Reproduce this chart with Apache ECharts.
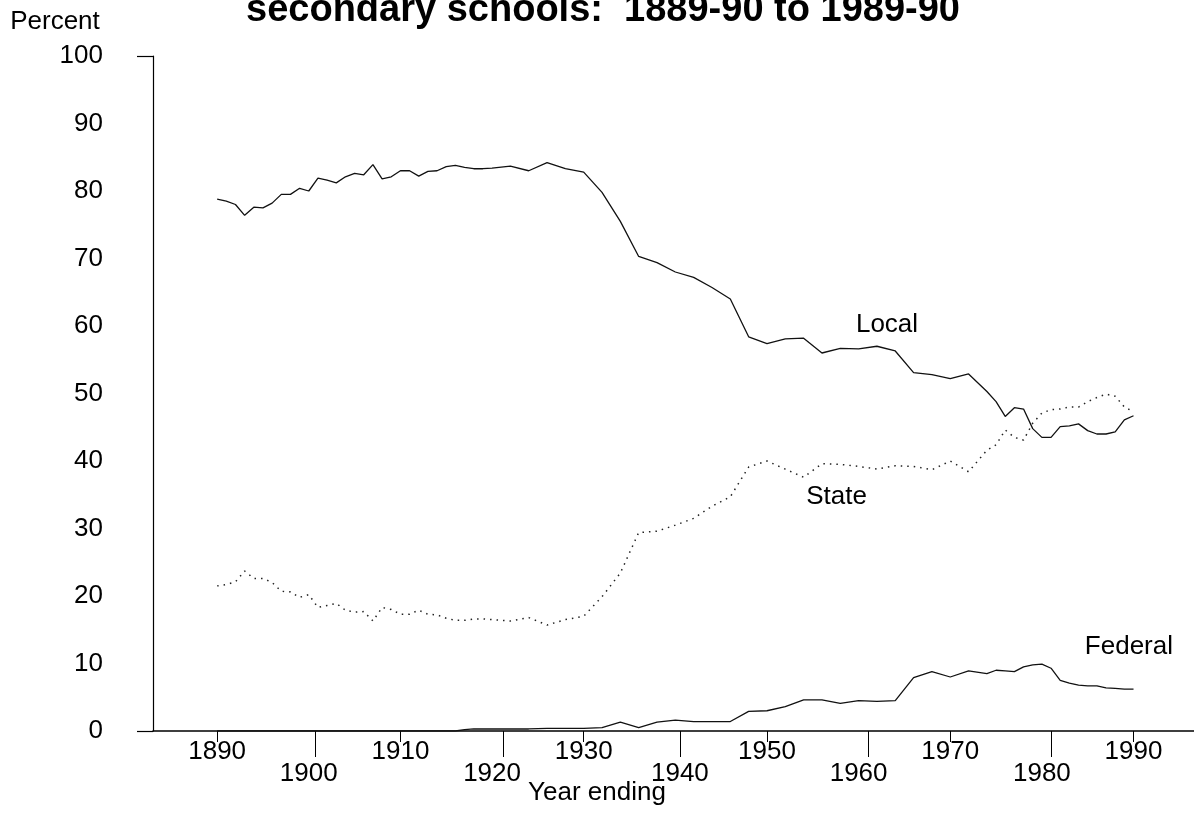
<!DOCTYPE html>
<html>
<head>
<meta charset="utf-8">
<script src="https://cdn.jsdelivr.net/npm/echarts@6/dist/echarts.min.js"></script>
<style>
  html, body { margin: 0; padding: 0; background: #fff; }
  #chart { width: 1194px; height: 827px; }
</style>
</head>
<body>
<div id="chart"></div>
<script>
const years = [
  1890,1891,1892,1893,1894,1895,1896,1897,1898,1899,
  1900,1901,1902,1903,1904,1905,1906,1907,1908,1909,
  1910,1911,1912,1913,1914,1915,1916,1917,1918,1919,
  1920,
  1922,1924,1926,1928,1930,1932,1934,1936,1938,1940,
  1942,1944,1946,1948,1950,1952,1954,1956,1958,1960,
  1962,1964,1966,1968,1970,1972,
  1974,1975,1976,1977,1978,1979,1980,1981,1982,1983,
  1984,1985,1986,1987,1988,1989,1990
];
const local = [
  78.8,78.5,78.0,76.4,77.6,77.5,78.2,79.5,79.5,80.4,
  80.0,81.9,81.6,81.2,82.1,82.6,82.4,83.9,81.8,82.1,
  83.0,83.0,82.2,82.9,83.0,83.6,83.8,83.5,83.3,83.3,
  83.4,
  83.7,83.0,84.2,83.3,82.8,79.8,75.5,70.3,69.4,68.0,
  67.2,65.7,64.0,58.4,57.4,58.1,58.2,56.0,56.7,56.6,
  57.0,56.3,53.1,52.8,52.2,52.9,
  50.3,48.8,46.6,47.9,47.7,44.8,43.5,43.5,45.1,45.2,
  45.5,44.5,44.0,44.0,44.3,46.1,46.7
];
const state = [
  21.5,21.7,22.1,23.7,22.6,22.6,22.0,20.7,20.6,19.8,
  20.2,18.3,18.6,18.9,17.9,17.6,17.7,16.3,18.3,18.0,
  17.3,17.3,17.9,17.3,17.2,16.7,16.4,16.4,16.6,16.6,
  16.5,
  16.3,16.8,15.7,16.5,17.0,19.9,23.4,29.4,29.6,30.5,
  31.5,33.3,34.7,39.1,40.0,38.8,37.6,39.6,39.5,39.2,
  38.8,39.3,39.2,38.7,40.0,38.4,
  41.6,42.4,44.6,43.5,43.1,45.6,47.1,47.6,47.7,48.0,
  48.0,48.8,49.4,49.9,49.6,48.0,47.3
];
const federal = [
  0,0,0,0,0,0,0,0,0,0,
  0,0,0,0,0,0,0,0,0,0,
  0,0,0,0,0,0,0,0.2,0.3,0.3,
  0.3,
  0.3,0.3,0.4,0.4,0.4,0.5,1.3,0.5,1.3,1.6,
  1.4,1.4,1.4,2.9,3.0,3.6,4.6,4.6,4.1,4.5,
  4.4,4.5,7.9,8.8,8.0,8.9,
  8.5,9.0,8.9,8.8,9.5,9.8,9.9,9.3,7.5,7.1,
  6.8,6.7,6.7,6.4,6.3,6.2,6.2
];
const seriesNames = ['Local', 'State', 'Federal'];
const oddYearLabels = [1890, 1910, 1930, 1950, 1970, 1990];
const evenYearLabels = [1900, 1920, 1940, 1960, 1980];
const evenYearLabelSpots = [1900, 1920, 1940.5, 1960, 1980];
const evenYearTickMarks = [1900.7, 1921.2, 1940.5, 1961.1, 1981.0];
const yEndTicks = [0, 100];
const labelAnchors = { Local: [1963.1, 60.1], State: [1957.6, 34.7], Federal: [1989.5, 12.4] };

const FONT = '"Liberation Sans", Arial, Helvetica, sans-serif';
const pairs = arr => years.map((y, i) => [y, arr[i]]);

function mkSeries(name, values, lineType, color, width) {
  return {
    name: name,
    type: 'line',
    data: pairs(values),
    showSymbol: false,
    symbol: 'none',
    silent: true,
    lineStyle: { color: color, width: width, type: lineType },
    markPoint: {
      symbol: 'circle',
      symbolSize: 0,
      silent: true,
      label: { show: true, position: 'inside', formatter: name, color: '#000', fontSize: 26, fontFamily: FONT },
      data: [{ coord: labelAnchors[name] }]
    }
  };
}

const chart = echarts.init(document.getElementById('chart'), null, { renderer: 'canvas' });
const xCommon = { type: 'value', min: 1883, max: 1996.6, gridIndex: 0, position: 'bottom', splitLine: { show: false } };
chart.setOption({
  animation: false,
  backgroundColor: '#fff',
  textStyle: { fontFamily: FONT },
  grid: { left: 153, right: 0, top: 56, bottom: 96, containLabel: false },
  graphic: [
    { type: 'text', x: 603, y: 11, style: { text: 'secondary schools:  1889-90 to 1989-90', font: 'bold 38px ' + FONT, fill: '#000', align: 'center', verticalAlign: 'middle' } },
    { type: 'text', x: 55, y: 22, style: { text: 'Percent', font: '26px ' + FONT, fill: '#000', align: 'center', verticalAlign: 'middle' } },
    { type: 'text', x: 597, y: 793, style: { text: 'Year ending', font: '26px ' + FONT, fill: '#000', align: 'center', verticalAlign: 'middle' } }
  ],
  xAxis: [
    Object.assign({}, xCommon, {
      axisLine: { show: true, onZero: false, lineStyle: { color: '#000', width: 1.5 } },
      axisTick: { show: true, customValues: oddYearLabels, length: 11, lineStyle: { color: '#000', width: 1 } },
      axisLabel: { show: true, customValues: oddYearLabels, margin: 8, color: '#000', fontSize: 26, fontFamily: FONT, formatter: v => String(Math.round(v)) }
    }),
    Object.assign({}, xCommon, {
      axisLine: { show: false, onZero: false },
      axisTick: { show: true, customValues: evenYearTickMarks, length: 26, lineStyle: { color: '#000', width: 1 } },
      axisLabel: { show: true, customValues: evenYearLabelSpots, margin: 30, color: '#000', fontSize: 26, fontFamily: FONT,
        formatter: v => String(evenYearLabels[evenYearLabelSpots.indexOf(v)] !== undefined ? evenYearLabels[evenYearLabelSpots.indexOf(v)] : Math.floor(v)) }
    })
  ],
  yAxis: {
    type: 'value', min: 0, max: 100, interval: 10,
    splitLine: { show: false },
    axisLine: { show: true, onZero: false, lineStyle: { color: '#000', width: 1.2 } },
    axisTick: { show: true, customValues: yEndTicks, length: 16, lineStyle: { color: '#000', width: 1.2 } },
    axisLabel: { margin: 50, color: '#000', fontSize: 26, fontFamily: FONT }
  },
  series: [
    mkSeries(seriesNames[0], local, 'solid', '#111', 1.3),
    mkSeries(seriesNames[1], state, [1.5, 5], '#222', 1.5),
    mkSeries(seriesNames[2], federal, 'solid', '#111', 1.3)
  ]
});
</script>
</body>
</html>
